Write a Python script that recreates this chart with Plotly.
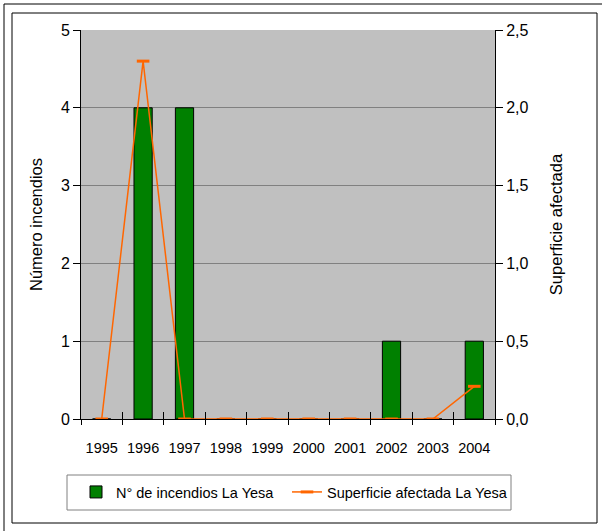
import plotly.graph_objects as go

years = ['1995', '1996', '1997', '1998', '1999', '2000', '2001', '2002', '2003', '2004']
incendios = [0, 4, 4, 0, 0, 0, 0, 1, 0, 1]
superficie = [0, 2.3, 0, 0, 0, 0, 0, 0, 0, 0.21]

W, H = 602, 531
L, R, T, B = 81, 495, 30, 419

def px_x(p):
    return (p - L) / (R - L)

def px_y(p):
    return (B - p) / (B - T)

FONT = "Liberation Sans, Arial, sans-serif"

fig = go.Figure()
fig.add_trace(go.Bar(
    x=years, y=incendios, name="N° de incendios La Yesa",
    marker=dict(color="#008000", line=dict(color="black", width=1)),
    width=0.44, xaxis="x", yaxis="y", legend="legend",
))
fig.add_trace(go.Scatter(
    x=years, y=superficie, name="Superficie afectada La Yesa",
    mode="lines+markers",
    line=dict(color="#FF6600", width=1.5),
    marker=dict(symbol="line-ew", size=9, color="#FF6600",
                line=dict(color="#FF6600", width=3)),
    xaxis="x2", yaxis="y2", legend="legend2",
))

leg_common = dict(orientation="h", yanchor="middle", y=px_y(492),
                  xanchor="left", borderwidth=0, bgcolor="rgba(0,0,0,0)",
                  font=dict(size=14.5))

fig.update_layout(
    width=W, height=H,
    margin=dict(l=L, r=W - R, t=T, b=H - B, autoexpand=False),
    paper_bgcolor="white", plot_bgcolor="#C0C0C0",
    separators=",.",
    font=dict(family=FONT, color="black"),
    showlegend=True,
    xaxis=dict(
        type="category", tickson="boundaries", ticks="outside", ticklen=5,
        tickcolor="black", tickwidth=1, showline=True, linecolor="black",
        linewidth=1, showgrid=False, tickfont=dict(size=14.5), tickangle=0,
        ticklabelstandoff=16,
        range=[-0.5, len(years) - 0.5], fixedrange=True,
    ),
    xaxis2=dict(
        type="category", overlaying="x", matches="x", side="bottom",
        tickson="boundaries", ticks="inside", ticklen=7, tickcolor="black",
        tickwidth=1, showticklabels=False, showgrid=False, showline=False,
    ),
    yaxis=dict(
        range=[0, 5], dtick=1, ticks="outside", ticklen=7, tickcolor="black",
        showline=True, linecolor="black", linewidth=1,
        showgrid=True, gridcolor="#808080", gridwidth=1,
        zeroline=False, tickfont=dict(size=16),
        title=dict(text="Número incendios", font=dict(size=16.5), standoff=14),
    ),
    yaxis2=dict(
        range=[0, 2.5], dtick=0.5, tickformat=".1f", overlaying="y",
        side="right", ticks="outside", ticklen=7, tickcolor="black",
        showline=True, linecolor="black", linewidth=1, showgrid=False,
        zeroline=False, tickfont=dict(size=16),
        title=dict(text="Superficie afectada", font=dict(size=16.5), standoff=22),
    ),
    legend=dict(x=px_x(76), **leg_common),
    legend2=dict(x=px_x(287), **leg_common),
    shapes=[
        dict(type="rect", xref="paper", yref="paper",
             x0=px_x(4), x1=px_x(640), y0=px_y(4), y1=px_y(560),
             line=dict(color="black", width=1), fillcolor="rgba(0,0,0,0)",
             layer="below"),
        dict(type="rect", xref="paper", yref="paper",
             x0=px_x(12), x1=px_x(597), y0=px_y(13), y1=px_y(523),
             line=dict(color="black", width=1), fillcolor="rgba(0,0,0,0)",
             layer="below"),
        dict(type="rect", xref="paper", yref="paper",
             x0=px_x(67), x1=px_x(511), y0=px_y(475), y1=px_y(510),
             line=dict(color="#808080", width=1), fillcolor="rgba(0,0,0,0)",
             layer="below"),
    ],
)

fig.write_html(
    "out.html",
    config={"displayModeBar": False},
    post_script="document.body.style.margin='0';document.body.style.padding='0';",
)
